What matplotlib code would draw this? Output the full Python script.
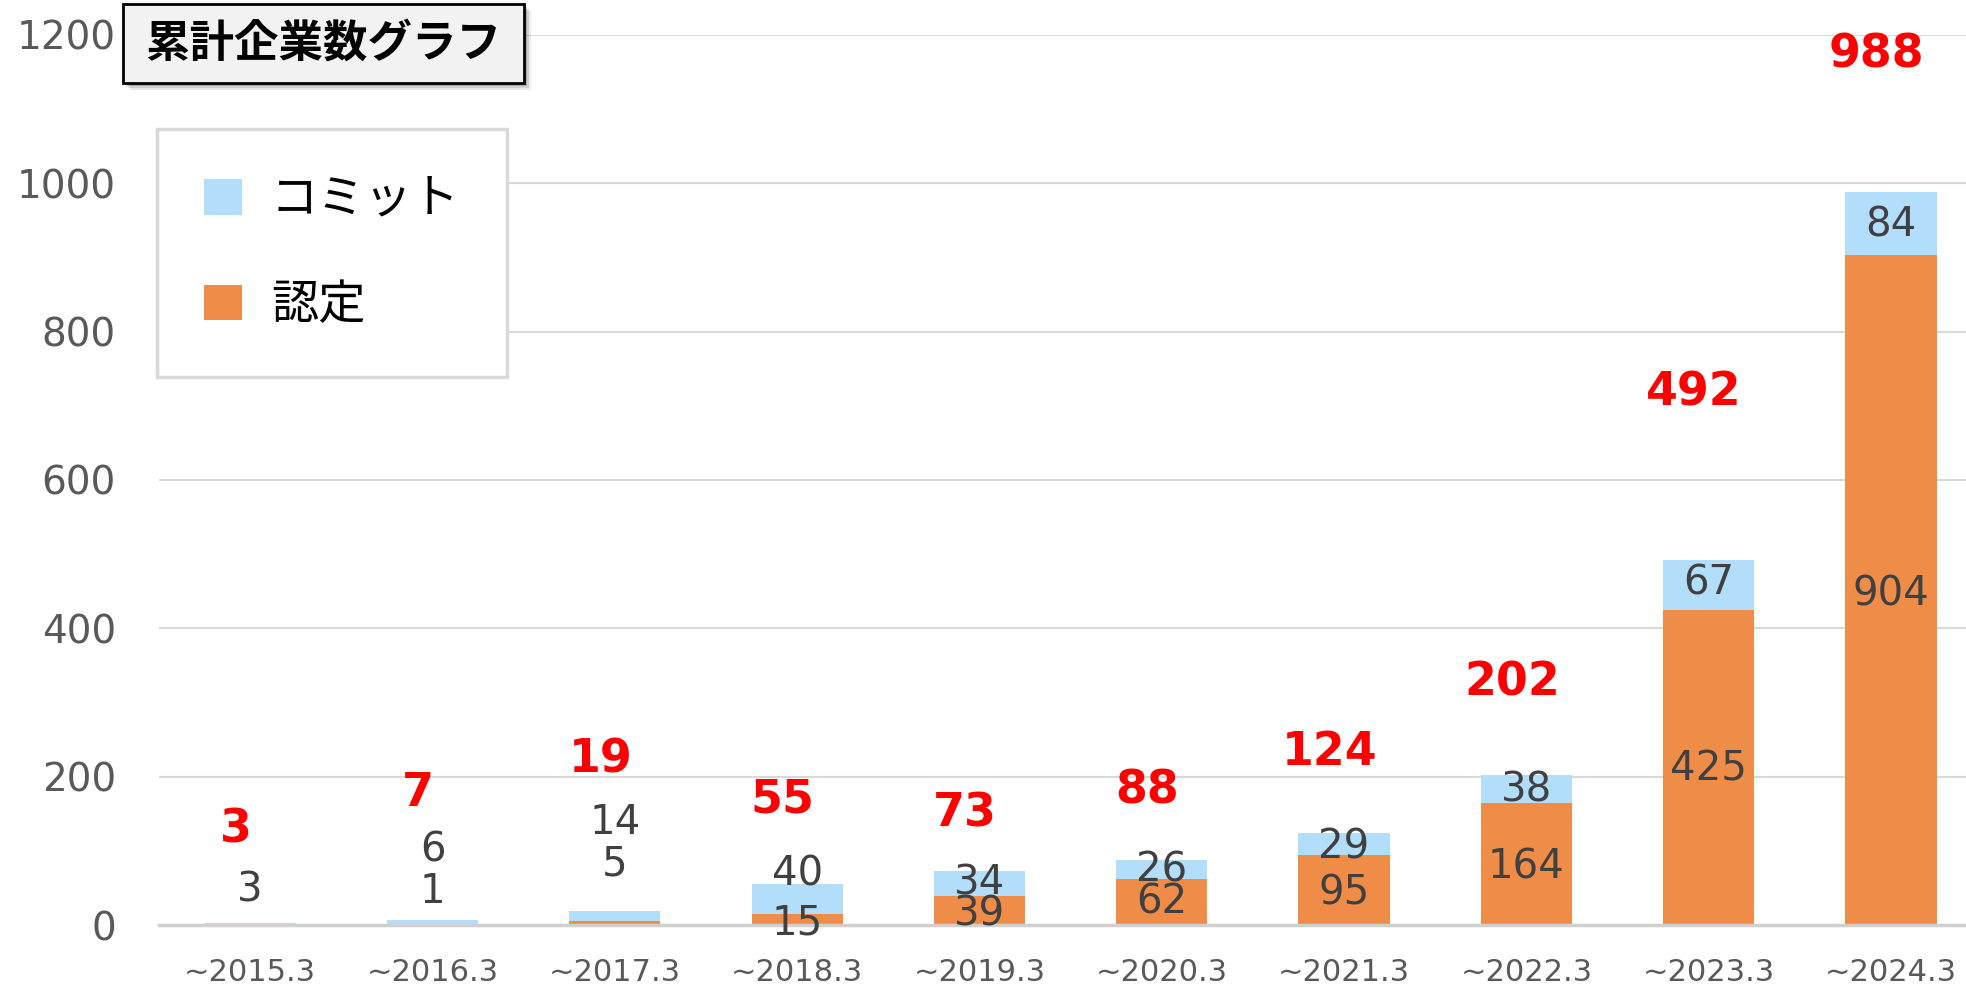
import numpy as np
import matplotlib.pyplot as plt
from matplotlib.patches import Rectangle, Patch

plt.rcParams['font.family'] = ['DejaVu Sans', 'Noto Sans CJK JP']
JP = ['Noto Sans CJK JP', 'DejaVu Sans']

periods = ['~2015.3', '~2016.3', '~2017.3', '~2018.3', '~2019.3',
           '~2020.3', '~2021.3', '~2022.3', '~2023.3', '~2024.3']
commit = [3, 6, 14, 40, 34, 26, 29, 38, 67, 84]
certified = [0, 1, 5, 15, 39, 62, 95, 164, 425, 904]
totals = [3, 7, 19, 55, 73, 88, 124, 202, 492, 988]

# where the labels sit (moved by hand in the original for the small bars)
commit_label_y = [47, 101, 137, 68, 56, 73, 105, 181, 460, 943]
cert_label_y = [None, 44, 81, 2, 14, 30, 42, 78, 210, 446]
total_label_y = [128, 177, 223, 169, 149, 181, 232, 326, 717, 1173]

BLUE = '#B3DEFB'
ORANGE = '#EF8C48'
GREY = '#595959'
DARK = '#404040'

fig = plt.figure(figsize=(19.66, 9.85), dpi=100)
ax = fig.add_axes([0.0809, 0.0609, 0.9273, 0.9036])

x = np.arange(len(periods))
ax.bar(x, certified, width=0.5, color=ORANGE, zorder=2)
ax.bar(x, commit, bottom=certified, width=0.5, color=BLUE, zorder=2)

ax.set_xlim(-0.5, len(periods) - 0.5)
ax.set_ylim(0, 1200)
ax.set_yticks(range(0, 1201, 200))
ax.set_xticks(x)
ax.set_xticklabels(periods)
ax.grid(axis='y', color='#d9d9d9', lw=1.5, zorder=0)
ax.set_axisbelow(True)
for s in ['top', 'right', 'left']:
    ax.spines[s].set_visible(False)
ax.spines['bottom'].set_color('#d0d0d0')
ax.spines['bottom'].set_linewidth(2.5)
ax.spines['bottom'].set_zorder(3)
ax.tick_params(axis='y', length=0, labelsize=28, labelcolor=GREY, pad=31)
ax.tick_params(axis='x', length=0, labelsize=22, labelcolor=GREY, pad=24)

for i in range(len(periods)):
    ax.text(i, commit_label_y[i], str(commit[i]), ha='center', va='center',
            fontsize=29, color=DARK, zorder=4)
    if cert_label_y[i] is not None:
        ax.text(i, cert_label_y[i], str(certified[i]), ha='center', va='center',
                fontsize=29, color=DARK, zorder=4)
    ax.text(i - 0.08, total_label_y[i], str(totals[i]), ha='center', va='center',
            fontsize=33, fontweight='bold', color='#FF0000', zorder=4)

# legend
handles = [Patch(facecolor=BLUE, label='コミット'),
           Patch(facecolor=ORANGE, label='認定')]
leg = ax.legend(handles=handles, loc='upper left',
                bbox_to_anchor=(157 / 1966, 1 - 129 / 985),
                bbox_transform=fig.transFigure,
                prop={'family': JP, 'size': 34}, frameon=True, fancybox=False,
                edgecolor='#d9d9d9', framealpha=1,
                handlelength=0.79, handleheight=0.79, handletextpad=0.62,
                labelspacing=1.2, borderpad=1.0, borderaxespad=0)
leg.get_frame().set_linewidth(2.5)

# title box with soft shadow
x0, x1 = 123 / 1966, 524 / 1966
y0, y1 = 1 - 83 / 985, 1 - 4 / 985
for k, a in enumerate([0.08, 0.12, 0.18]):
    off = (7 - 2 * k)
    fig.patches.append(Rectangle((x0 + off / 1966, y0 - off / 985), x1 - x0, y1 - y0,
                                 transform=fig.transFigure, facecolor='black',
                                 edgecolor='none', alpha=a, zorder=5))
fig.patches.append(Rectangle((x0, y0), x1 - x0, y1 - y0, transform=fig.transFigure,
                             facecolor='#f2f2f2', edgecolor='black', lw=2, zorder=6))
fig.text((x0 + x1) / 2, (y0 + y1) / 2, '累計企業数グラフ', ha='center', va='center',
         family=JP, fontsize=32, fontweight='bold', color='black', zorder=7)

fig.savefig('out.png', dpi=100)
